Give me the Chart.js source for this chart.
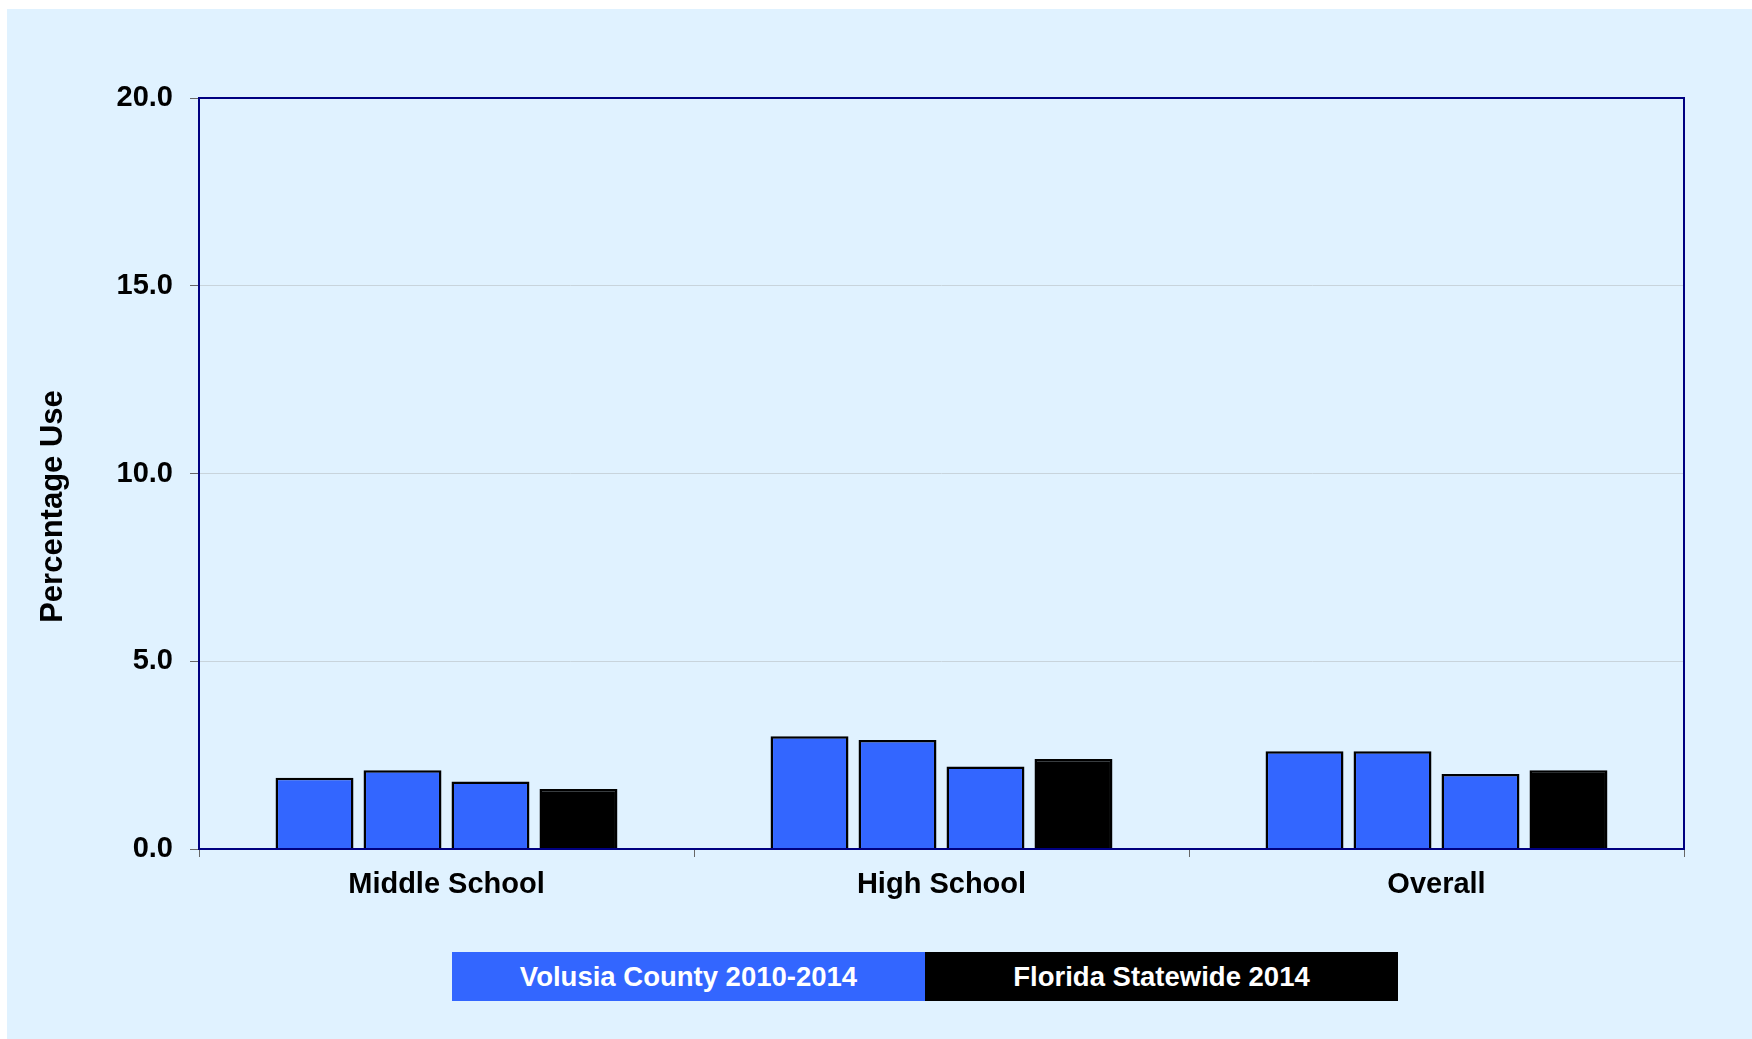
<!DOCTYPE html>
<html>
<head>
<meta charset="utf-8">
<script src="https://cdn.jsdelivr.net/npm/chart.js@4"></script>
<style>
  html, body { margin: 0; padding: 0; background: #ffffff; }
  #panel { position: absolute; left: 7px; top: 9px; right: 0; bottom: 0; background: #E0F2FF; }
  #wrap { position: absolute; left: 0; top: 0; width: 1752px; height: 1039px; }
  #legend { position: absolute; left: 452px; top: 952px; display: flex; }
  #legend div {
    width: 473px; height: 49px; line-height: 50px; text-align: center; color: #fff;
    font-family: "Liberation Sans", Arial, sans-serif;
    font-weight: bold; font-size: 27.5px;
  }
</style>
</head>
<body>
<div id="panel"></div>
<div id="wrap"><canvas id="chart" width="1752" height="1039"></canvas></div>
<div id="legend"></div>
<script>
const categories = ["Middle School", "High School", "Overall"];
const volusia2010 = [1.9, 3.0, 2.6];
const volusia2012 = [2.1, 2.9, 2.6];
const volusia2014 = [1.8, 2.2, 2.0];
const florida2014 = [1.6, 2.4, 2.1];
const yTicks = [0, 5, 10, 15, 20];
const yTitle = "Percentage Use";
const legendItems = [
  { label: "Volusia County 2010-2014", color: "#3366FF" },
  { label: "Florida Statewide 2014", color: "#000000" }
];

const blue = "#3366FF";
const font = "Liberation Sans, Arial, sans-serif";

// legend boxes under the chart
const legendEl = document.getElementById("legend");
legendItems.forEach(item => {
  const d = document.createElement("div");
  d.style.background = item.color;
  d.textContent = item.label;
  legendEl.appendChild(d);
});

// navy frame round the plot area, plus the y title (sits a bit below centre in the original)
const frame = {
  id: "frame",
  afterDatasetsDraw(chart) {
    const a = chart.chartArea;
    const ctx = chart.ctx;
    ctx.save();
    ctx.strokeStyle = "#000080";
    ctx.lineWidth = 2;
    ctx.strokeRect(a.left, a.top, a.right - a.left, a.bottom - a.top);
    ctx.restore();
  },
  afterDraw(chart) {
    const a = chart.chartArea;
    const ctx = chart.ctx;
    ctx.save();
    ctx.translate(53, (a.top + a.bottom) / 2 + 33);
    ctx.rotate(-Math.PI / 2);
    ctx.font = "bold 31px " + font;
    ctx.fillStyle = "#000";
    ctx.textAlign = "center";
    ctx.textBaseline = "middle";
    ctx.fillText(yTitle, 0, 0);
    ctx.restore();
  }
};

function bar(label, data, color) {
  return {
    label, data,
    backgroundColor: color,
    borderColor: "#000000",
    borderWidth: 2.5,
    categoryPercentage: 0.711,
    barPercentage: 0.886
  };
}

const ctx = document.getElementById("chart").getContext("2d");
new Chart(ctx, {
  type: "bar",
  data: {
    labels: categories,
    datasets: [
      bar("Volusia 2010", volusia2010, blue),
      bar("Volusia 2012", volusia2012, blue),
      bar("Volusia 2014", volusia2014, blue),
      bar("Florida 2014", florida2014, "#000000")
    ]
  },
  options: {
    responsive: false,
    animation: false,
    layout: { padding: { left: 0, top: 98, right: 68, bottom: 120 } },
    plugins: { legend: { display: false }, tooltip: { enabled: false } },
    scales: {
      x: {
        grid: { drawOnChartArea: false, drawTicks: true, tickLength: 8, tickColor: "#666666", offset: true },
        border: { display: false },
        ticks: { color: "#000", padding: 11, font: { family: font, size: 29, weight: "bold" } },
        afterFit(scale) { scale.height = 70; }
      },
      y: {
        min: 0,
        max: 20,
        afterBuildTicks(scale) { scale.ticks = yTicks.map(v => ({ value: v })); },
        grid: { color: "#C8D4DC", tickColor: "#666666", tickLength: 9 },
        border: { display: false },
        ticks: {
          color: "#000", padding: 17,
          font: { family: font, size: 29, weight: "bold" },
          callback: v => v.toFixed(1)
        },
        afterFit(scale) { scale.width = 199; }
      }
    }
  },
  plugins: [frame]
});
</script>
</body>
</html>
